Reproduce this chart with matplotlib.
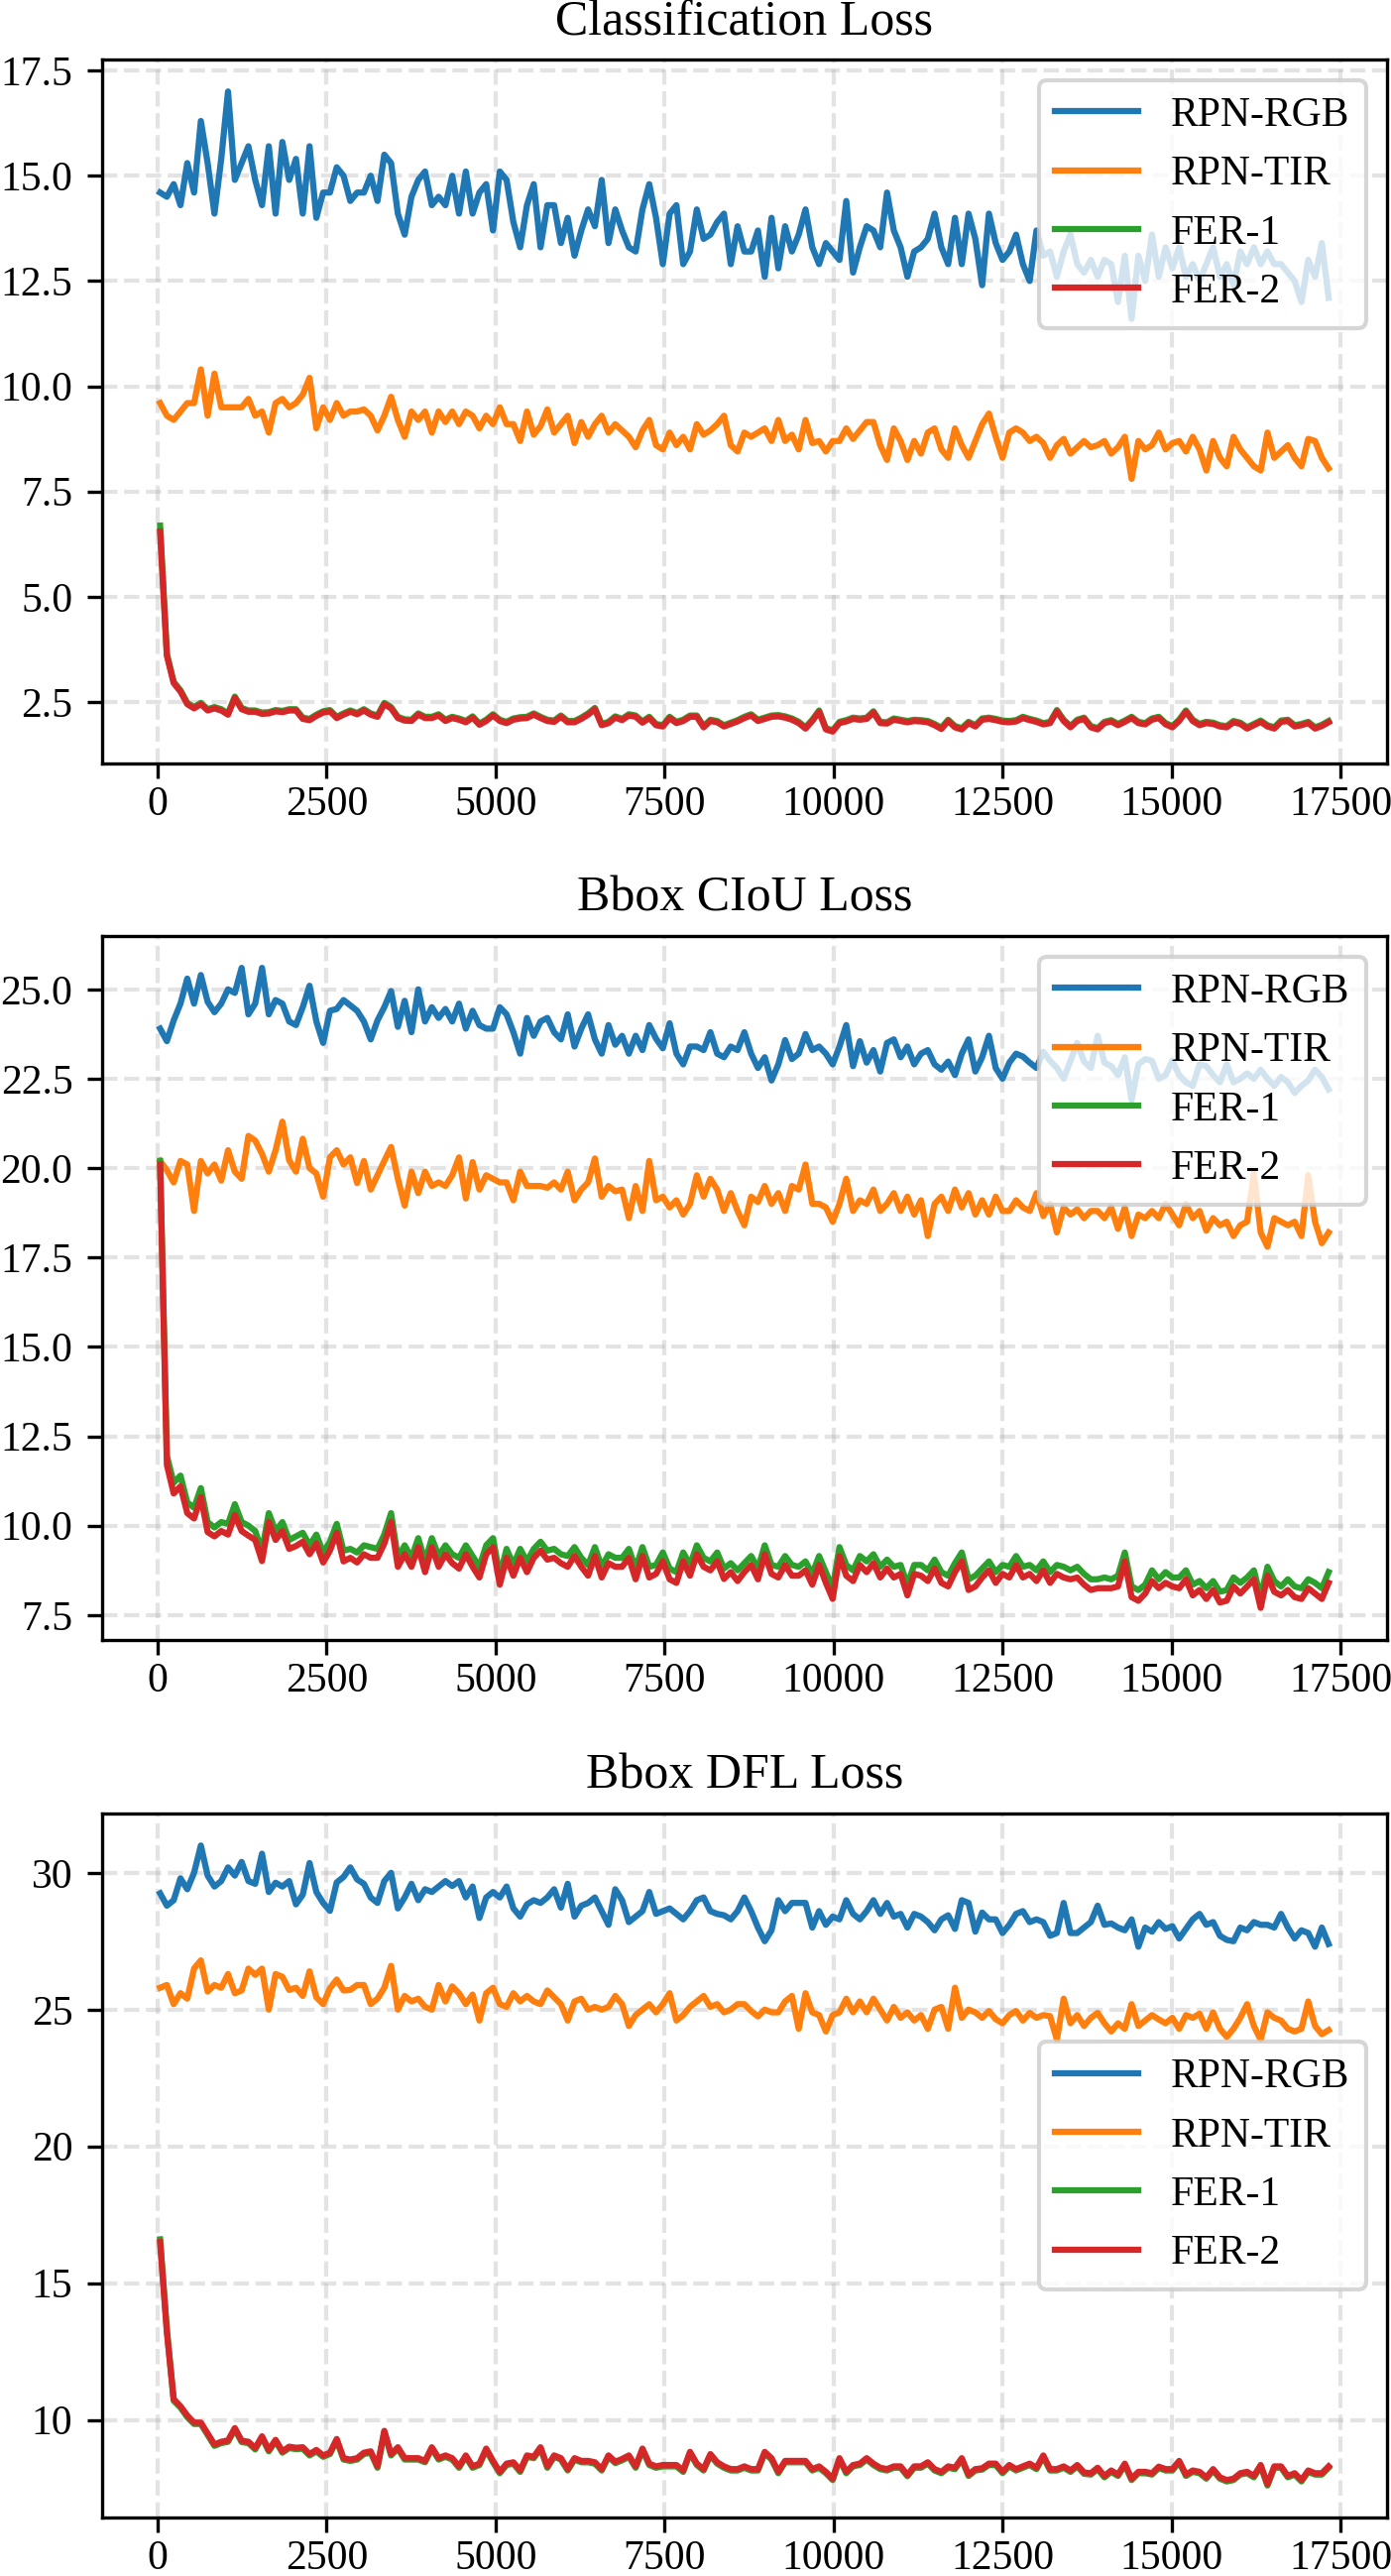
import numpy as np
import matplotlib
matplotlib.use("Agg")
import matplotlib.pyplot as plt

plt.rcParams['font.family'] = ['Liberation Serif', 'DejaVu Serif']

# training iterations (x axis)
steps = np.linspace(36, 17320, 173)

series_labels = ["RPN-RGB", "RPN-TIR", "FER-1", "FER-2"]
series_colors = ["#1f77b4", "#ff7f0e", "#2ca02c", "#d62728"]
titles = ["Classification Loss", "Bbox CIoU Loss", "Bbox DFL Loss"]
xticks = [0, 2500, 5000, 7500, 10000, 12500, 15000, 17500]

# ---------------- Classification loss ----------------
cls_rgb = [
    14.6, 14.5, 14.8, 14.3, 15.3, 14.6, 16.3, 15.3, 14.1, 15.4,
    17.0, 14.9, 15.3, 15.7, 14.9, 14.3, 15.7, 14.1, 15.8, 14.9,
    15.4, 14.1, 15.7, 14.0, 14.6, 14.6, 15.2, 15.0, 14.4, 14.6,
    14.6, 15.0, 14.4, 15.5, 15.3, 14.1, 13.6, 14.5, 14.9, 15.1,
    14.3, 14.5, 14.3, 15.0, 14.1, 15.1, 14.1, 14.6, 14.8, 13.7,
    15.1, 14.9, 13.9, 13.3, 14.3, 14.8, 13.3, 14.3, 14.3, 13.4,
    14.0, 13.1, 13.7, 14.2, 13.8, 14.9, 13.4, 14.2, 13.7, 13.3,
    13.2, 14.2, 14.8, 14.0, 12.9, 14.1, 14.3, 12.9, 13.2, 14.2,
    13.5, 13.6, 13.9, 14.1, 12.9, 13.8, 13.2, 13.2, 13.7, 12.6,
    14.0, 12.8, 13.8, 13.2, 13.6, 14.2, 13.3, 12.9, 13.4, 13.2,
    13.0, 14.4, 12.7, 13.3, 13.8, 13.7, 13.3, 14.6, 13.7, 13.3,
    12.6, 13.2, 13.3, 13.5, 14.1, 13.3, 12.9, 14.0, 12.9, 14.1,
    13.5, 12.4, 14.1, 13.4, 13.0, 13.2, 13.6, 12.9, 12.5, 13.7,
    13.1, 13.2, 12.6, 13.2, 13.6, 12.9, 12.7, 13.0, 12.6, 13.0,
    12.9, 12.0, 13.1, 11.6, 13.1, 12.5, 13.6, 12.6, 13.3, 12.8,
    13.3, 12.6, 12.9, 12.5, 12.9, 13.3, 12.6, 12.9, 12.4, 13.2,
    12.9, 13.3, 12.9, 13.2, 12.9, 12.9, 12.7, 12.5, 12.0, 13.0,
    12.6, 13.4, 12.1]
cls_tir = [
    9.6, 9.3, 9.2, 9.4, 9.6, 9.6, 10.4, 9.3, 10.3, 9.5,
    9.5, 9.5, 9.5, 9.7, 9.3, 9.4, 8.9, 9.6, 9.7, 9.5,
    9.6, 9.8, 10.2, 9.0, 9.5, 9.2, 9.6, 9.3, 9.4, 9.4,
    9.45, 9.3, 8.95, 9.3, 9.75, 9.2, 8.8, 9.4, 9.2, 9.4,
    8.9, 9.4, 9.15, 9.4, 9.1, 9.4, 9.3, 9.0, 9.3, 9.1,
    9.5, 9.1, 9.1, 8.7, 9.4, 8.85, 9.05, 9.45, 8.9, 9.1,
    9.3, 8.65, 9.15, 8.8, 9.1, 9.3, 8.9, 9.1, 8.95, 8.8,
    8.55, 8.95, 9.2, 8.6, 8.5, 8.9, 8.6, 8.8, 8.5, 9.1,
    8.85, 8.95, 9.1, 9.3, 8.6, 8.45, 8.9, 8.8, 8.9, 9.0,
    8.7, 9.2, 8.7, 8.85, 8.5, 9.2, 8.65, 8.7, 8.45, 8.7,
    8.7, 9.0, 8.75, 8.95, 9.15, 9.15, 8.6, 8.25, 9.0, 8.7,
    8.25, 8.7, 8.4, 8.9, 9.0, 8.5, 8.3, 9.0, 8.6, 8.3,
    8.7, 9.1, 9.35, 8.8, 8.3, 8.9, 9.0, 8.9, 8.7, 8.8,
    8.65, 8.3, 8.6, 8.75, 8.4, 8.55, 8.7, 8.55, 8.6, 8.7,
    8.4, 8.55, 8.8, 7.8, 8.7, 8.5, 8.6, 8.9, 8.5, 8.65,
    8.7, 8.45, 8.8, 8.5, 8.0, 8.7, 8.3, 8.1, 8.8, 8.5,
    8.3, 8.1, 8.0, 8.9, 8.3, 8.45, 8.6, 8.3, 8.1, 8.75,
    8.7, 8.3, 8.05]
cls_fer1 = [
    6.69, 3.64, 2.98, 2.78, 2.48, 2.38, 2.48, 2.33, 2.38, 2.33,
    2.23, 2.63, 2.36, 2.3, 2.3, 2.25, 2.26, 2.31, 2.29, 2.33,
    2.33, 2.13, 2.1, 2.2, 2.28, 2.31, 2.15, 2.23, 2.3, 2.24,
    2.33, 2.23, 2.18, 2.48, 2.38, 2.15, 2.09, 2.08, 2.23, 2.15,
    2.15, 2.21, 2.08, 2.15, 2.11, 2.05, 2.16, 1.99, 2.08, 2.21,
    2.08, 2.03, 2.11, 2.14, 2.15, 2.23, 2.15, 2.08, 2.06, 2.18,
    2.05, 2.05, 2.13, 2.23, 2.36, 1.98, 2.03, 2.16, 2.1, 2.21,
    2.18, 2.04, 2.15, 1.98, 1.95, 2.15, 2.03, 2.08, 2.18, 2.18,
    1.93, 2.08, 2.05, 1.95, 2.01, 2.07, 2.15, 2.21, 2.08, 2.13,
    2.18, 2.19, 2.16, 2.11, 2.03, 1.9, 2.08, 2.3, 1.88, 1.83,
    2.03, 2.07, 2.13, 2.11, 2.13, 2.28, 2.03, 2.02, 2.11, 2.08,
    2.05, 2.08, 2.07, 2.05, 1.98, 1.89, 2.08, 1.93, 1.88, 2.03,
    1.95, 2.11, 2.13, 2.1, 2.06, 2.05, 2.07, 2.15, 2.1, 2.06,
    2.0, 2.03, 2.31, 2.08, 1.93, 2.08, 2.13, 1.93, 1.88, 2.03,
    2.07, 1.98, 2.06, 2.15, 2.03, 2.0, 2.11, 2.15, 2.0, 1.93,
    2.08, 2.3, 2.08, 1.98, 2.03, 2.01, 1.95, 1.93, 2.05, 2.01,
    1.9, 1.98, 2.06, 1.95, 1.9, 2.06, 2.08, 1.95, 1.98, 2.03,
    1.9, 1.96, 2.05]
cls_fer2 = [
    6.55, 3.6, 2.95, 2.75, 2.45, 2.35, 2.45, 2.3, 2.35, 2.3,
    2.2, 2.6, 2.33, 2.27, 2.27, 2.22, 2.23, 2.28, 2.26, 2.3,
    2.3, 2.1, 2.07, 2.17, 2.25, 2.28, 2.12, 2.2, 2.27, 2.21,
    2.3, 2.2, 2.15, 2.45, 2.35, 2.12, 2.06, 2.05, 2.2, 2.12,
    2.12, 2.18, 2.05, 2.12, 2.08, 2.02, 2.13, 1.96, 2.05, 2.18,
    2.05, 2.0, 2.08, 2.11, 2.12, 2.2, 2.12, 2.05, 2.03, 2.15,
    2.02, 2.02, 2.1, 2.2, 2.33, 1.95, 2.0, 2.13, 2.07, 2.18,
    2.15, 2.01, 2.12, 1.95, 1.92, 2.12, 2.0, 2.05, 2.15, 2.15,
    1.9, 2.05, 2.02, 1.92, 1.98, 2.04, 2.12, 2.18, 2.05, 2.1,
    2.15, 2.16, 2.13, 2.08, 2.0, 1.87, 2.05, 2.27, 1.85, 1.8,
    2.0, 2.04, 2.1, 2.08, 2.1, 2.25, 2.0, 1.99, 2.08, 2.05,
    2.02, 2.05, 2.04, 2.02, 1.95, 1.86, 2.05, 1.9, 1.85, 2.0,
    1.92, 2.08, 2.1, 2.07, 2.03, 2.02, 2.04, 2.12, 2.07, 2.03,
    1.97, 2.0, 2.28, 2.05, 1.9, 2.05, 2.1, 1.9, 1.85, 2.0,
    2.04, 1.95, 2.03, 2.12, 2.0, 1.97, 2.08, 2.12, 1.97, 1.9,
    2.05, 2.27, 2.05, 1.95, 2.0, 1.98, 1.92, 1.9, 2.02, 1.98,
    1.87, 1.95, 2.03, 1.92, 1.87, 2.03, 2.05, 1.92, 1.95, 2.0,
    1.87, 1.93, 2.02]

# ---------------- Bbox CIoU loss ----------------
ciou_rgb = [
    23.9, 23.55, 24.13, 24.6, 25.3, 24.6, 25.4, 24.65, 24.36, 24.6,
    25.0, 24.9, 25.6, 24.3, 24.6, 25.6, 24.3, 24.7, 24.6, 24.1,
    24.0, 24.5, 25.1, 24.1, 23.5, 24.4, 24.45, 24.7, 24.55, 24.4,
    24.1, 23.6, 24.13, 24.5, 24.95, 23.95, 24.68, 23.8, 25.0, 24.1,
    24.5, 24.2, 24.45, 24.1, 24.6, 23.9, 24.4, 24.0, 23.9, 23.9,
    24.5, 24.3, 23.8, 23.2, 24.2, 23.7, 24.1, 24.2, 23.8, 23.6,
    24.3, 23.4, 23.9, 24.3, 23.6, 23.2, 24.0, 23.45, 23.7, 23.2,
    23.7, 23.3, 24.0, 23.62, 23.35, 24.05, 23.2, 22.9, 23.4, 23.4,
    23.3, 23.8, 23.2, 23.1, 23.4, 23.3, 23.8, 23.2, 22.8, 23.1,
    22.45, 22.9, 23.58, 23.05, 23.2, 23.75, 23.3, 23.4, 23.2, 22.9,
    23.4, 24.0, 22.85, 23.55, 22.95, 23.3, 22.7, 23.5, 23.6, 23.1,
    23.4, 22.9, 23.2, 23.3, 22.9, 22.75, 22.98, 22.6, 23.2, 23.6,
    22.7, 23.1, 23.7, 22.8, 22.5, 22.95, 23.2, 23.12, 22.95, 22.8,
    23.25, 23.0, 22.8, 22.5, 23.0, 23.5, 22.98, 22.8, 23.7, 22.95,
    22.85, 22.6, 23.1, 21.9, 22.9, 23.05, 23.0, 22.5, 22.6, 23.0,
    22.6, 22.4, 22.3, 22.9, 22.85, 22.6, 22.4, 22.9, 22.4, 22.5,
    22.65, 22.5, 22.75, 22.5, 22.3, 22.55, 22.4, 22.1, 22.3, 22.45,
    22.75, 22.55, 22.2]
ciou_tir = [
    20.2, 19.94, 19.6, 20.2, 20.1, 18.8, 20.2, 19.85, 20.1, 19.65,
    20.5, 19.9, 19.7, 20.9, 20.77, 20.4, 19.9, 20.5, 21.3, 20.22,
    19.9, 20.82, 20.0, 19.85, 19.2, 20.3, 20.5, 20.1, 20.3, 19.58,
    20.2, 19.4, 19.8, 20.2, 20.59, 19.7, 18.95, 19.9, 19.3, 19.9,
    19.5, 19.6, 19.5, 19.8, 20.3, 19.15, 20.17, 19.4, 19.8, 19.7,
    19.6, 19.6, 19.1, 19.9, 19.5, 19.5, 19.5, 19.45, 19.6, 19.4,
    19.9, 19.1, 19.4, 19.6, 20.27, 19.2, 19.5, 19.35, 19.4, 18.6,
    19.5, 18.8, 20.2, 19.1, 19.2, 18.9, 19.1, 18.7, 19.0, 19.8,
    19.2, 19.7, 19.4, 18.8, 19.3, 18.8, 18.4, 19.2, 19.05, 19.5,
    19.0, 19.3, 18.8, 19.5, 19.4, 20.1, 19.0, 19.0, 18.9, 18.5,
    19.0, 19.7, 18.8, 19.1, 19.0, 19.4, 18.8, 19.0, 19.3, 18.8,
    19.2, 18.7, 19.1, 18.1, 19.0, 19.2, 18.8, 19.4, 18.9, 19.3,
    18.7, 19.1, 18.7, 19.2, 18.8, 18.8, 19.1, 18.9, 18.8, 19.3,
    18.66, 19.0, 18.2, 18.9, 18.7, 18.85, 18.6, 18.8, 18.8, 18.6,
    18.9, 18.3, 18.9, 18.1, 18.7, 18.6, 18.8, 18.6, 19.0, 18.7,
    18.4, 19.0, 18.6, 18.8, 18.25, 18.6, 18.4, 18.5, 18.1, 18.4,
    18.5, 19.85, 18.2, 17.8, 18.6, 18.5, 18.4, 18.5, 18.1, 19.8,
    18.5, 17.9, 18.2]
ciou_fer1 = [
    20.2, 11.95, 11.2, 11.4, 10.65, 10.5, 11.05, 10.1, 9.95, 10.1,
    10.05, 10.6, 10.1, 10.0, 9.85, 9.3, 10.35, 9.85, 10.1, 9.6,
    9.7, 9.8, 9.45, 9.75, 9.25, 9.55, 10.05, 9.3, 9.35, 9.25,
    9.45, 9.4, 9.35, 9.75, 10.35, 9.1, 9.45, 9.1, 9.65, 9.0,
    9.65, 9.15, 9.45, 9.2, 9.1, 9.45, 9.15, 8.85, 9.45, 9.65,
    8.6, 9.35, 8.9, 9.35, 9.0, 9.35, 9.55, 9.3, 9.35, 9.2,
    9.15, 9.4, 9.1, 8.9, 9.4, 8.85, 9.2, 9.1, 9.1, 9.35,
    8.8, 9.4, 8.85, 8.9, 9.25, 8.8, 8.7, 9.25, 8.9, 9.45,
    9.1, 9.0, 9.25, 8.8, 8.95, 8.75, 8.95, 9.15, 8.8, 9.45,
    8.9, 8.85, 9.15, 8.9, 8.85, 9.0, 8.65, 9.15, 8.7, 8.25,
    9.4, 8.9, 8.75, 9.15, 9.0, 9.2, 8.85, 9.05, 8.85, 8.9,
    8.35, 8.9, 8.9, 8.75, 9.05, 8.7, 8.6, 8.95, 9.25, 8.5,
    8.6, 8.8, 9.0, 8.7, 8.9, 8.85, 9.15, 8.85, 8.9, 8.75,
    9.0, 8.7, 8.9, 8.85, 8.75, 8.85, 8.65, 8.5, 8.5, 8.55,
    8.5, 8.6, 9.25, 8.3, 8.2, 8.35, 8.75, 8.5, 8.7, 8.55,
    8.55, 8.75, 8.35, 8.45, 8.25, 8.45, 8.15, 8.2, 8.55, 8.4,
    8.55, 8.75, 8.0, 8.85, 8.45, 8.3, 8.5, 8.3, 8.25, 8.5,
    8.4, 8.25, 8.7]
ciou_fer2 = [
    20.1, 11.7, 10.9, 11.1, 10.35, 10.2, 10.8, 9.82, 9.7, 9.85,
    9.75, 10.3, 9.85, 9.72, 9.6, 9.01, 10.1, 9.6, 9.85, 9.35,
    9.43, 9.55, 9.2, 9.5, 8.97, 9.3, 9.8, 9.0, 9.1, 8.97,
    9.2, 9.1, 9.1, 9.5, 10.1, 8.85, 9.2, 8.85, 9.4, 8.7,
    9.4, 8.85, 9.2, 8.95, 8.8, 9.2, 8.85, 8.55, 9.2, 9.4,
    8.35, 9.1, 8.6, 9.1, 8.7, 9.1, 9.3, 9.05, 9.1, 8.95,
    8.85, 9.15, 8.85, 8.6, 9.15, 8.55, 8.95, 8.85, 8.85, 9.1,
    8.5, 9.15, 8.55, 8.65, 9.0, 8.5, 8.4, 9.0, 8.6, 9.2,
    8.85, 8.75, 9.0, 8.51, 8.7, 8.45, 8.7, 8.9, 8.5, 9.2,
    8.65, 8.55, 8.9, 8.6, 8.6, 8.75, 8.35, 8.9, 8.4, 7.95,
    9.15, 8.6, 8.45, 8.9, 8.7, 8.95, 8.55, 8.8, 8.55, 8.65,
    8.05, 8.65, 8.6, 8.45, 8.8, 8.4, 8.3, 8.7, 9.0, 8.2,
    8.3, 8.55, 8.75, 8.4, 8.65, 8.55, 8.9, 8.55, 8.65, 8.45,
    8.75, 8.4, 8.65, 8.55, 8.5, 8.55, 8.35, 8.2, 8.25, 8.25,
    8.25, 8.3, 9.0, 8.0, 7.9, 8.1, 8.45, 8.25, 8.4, 8.3,
    8.25, 8.5, 8.05, 8.2, 7.95, 8.2, 7.85, 7.9, 8.3, 8.1,
    8.3, 8.5, 7.7, 8.6, 8.15, 8.05, 8.2, 8.0, 7.95, 8.25,
    8.1, 7.95, 8.4]

# ---------------- Bbox DFL loss ----------------
dfl_rgb = [
    29.25, 28.8, 29.0, 29.8, 29.4, 30.0, 31.0, 29.9, 29.5, 29.7,
    30.2, 29.9, 30.4, 29.7, 29.6, 30.7, 29.3, 29.64, 29.5, 29.7,
    28.85, 29.2, 30.36, 29.3, 28.9, 28.61, 29.65, 29.85, 30.2, 29.76,
    29.6, 29.1, 28.9, 29.7, 30.0, 28.7, 29.1, 29.6, 29.0, 29.4,
    29.3, 29.5, 29.7, 29.52, 29.7, 29.1, 29.5, 28.35, 29.1, 29.3,
    29.1, 29.5, 28.7, 28.4, 28.85, 29.0, 28.9, 29.1, 29.4, 28.73,
    29.6, 28.4, 28.8, 28.9, 29.1, 28.6, 28.1, 29.4, 29.0, 28.2,
    28.4, 28.6, 29.3, 28.5, 28.6, 28.7, 28.5, 28.3, 28.6, 29.0,
    29.1, 28.6, 28.5, 28.45, 28.3, 28.6, 29.1, 28.6, 28.0, 27.5,
    27.9, 29.0, 28.6, 28.9, 28.9, 28.9, 28.0, 28.6, 28.1, 28.4,
    28.3, 29.0, 28.5, 28.3, 28.6, 29.0, 28.5, 28.9, 28.4, 28.5,
    28.0, 28.5, 28.4, 28.2, 27.9, 28.3, 28.45, 27.95, 29.0, 28.9,
    27.85, 28.55, 28.3, 28.3, 27.8, 28.1, 28.5, 28.6, 28.2, 28.3,
    28.2, 27.7, 27.8, 28.9, 27.8, 27.8, 28.0, 28.2, 28.8, 28.1,
    28.15, 28.0, 27.9, 28.3, 27.3, 28.0, 27.85, 28.2, 27.95, 28.05,
    27.6, 27.95, 28.3, 28.5, 28.1, 28.2, 27.7, 27.55, 27.5, 28.0,
    27.9, 28.2, 28.1, 28.1, 28.0, 28.5, 28.0, 27.6, 27.9, 27.8,
    27.3, 28.0, 27.4]
dfl_tir = [
    25.8, 25.9, 25.2, 25.6, 25.4, 26.5, 26.8, 25.66, 25.9, 25.8,
    26.3, 25.6, 25.7, 26.5, 26.27, 26.5, 25.0, 26.3, 26.2, 25.72,
    25.8, 25.5, 26.4, 25.45, 25.2, 25.78, 26.1, 25.7, 25.72, 25.9,
    25.9, 25.2, 25.4, 25.8, 26.6, 25.0, 25.5, 25.3, 25.4, 25.1,
    25.0, 25.9, 25.3, 25.85, 25.6, 25.2, 25.55, 24.6, 25.6, 25.8,
    25.2, 25.1, 25.6, 25.3, 25.5, 25.3, 25.2, 25.7, 25.45, 25.2,
    24.6, 25.3, 25.4, 25.0, 25.1, 25.0, 25.1, 25.5, 25.2, 24.4,
    24.8, 25.0, 25.2, 24.9, 25.2, 25.6, 24.6, 24.8, 25.1, 25.3,
    25.5, 25.1, 25.2, 24.9, 25.0, 25.2, 25.2, 24.95, 24.75, 25.0,
    24.9, 24.9, 25.3, 25.5, 24.3, 25.6, 24.9, 24.8, 24.2, 24.8,
    24.9, 25.4, 24.9, 25.3, 24.9, 25.4, 25.0, 24.6, 25.1, 24.7,
    24.9, 24.6, 24.8, 24.3, 25.0, 25.1, 24.3, 25.8, 24.7, 25.0,
    24.9, 24.7, 24.95, 24.65, 24.5, 24.8, 24.95, 24.6, 24.88, 24.7,
    24.8, 24.76, 23.9, 25.4, 24.5, 24.8, 24.4, 24.7, 24.88, 24.5,
    24.2, 24.5, 24.3, 25.2, 24.4, 24.6, 24.8, 24.64, 24.5, 24.7,
    24.3, 24.8, 24.7, 24.85, 24.3, 24.9, 24.3, 24.0, 24.3, 24.7,
    25.2, 24.4, 23.9, 24.9, 24.7, 24.6, 24.3, 24.2, 24.3, 25.3,
    24.4, 24.1, 24.25]
dfl_fer1 = [
    16.6, 13.3, 10.7, 10.45, 10.1, 9.85, 9.85, 9.45, 9.05, 9.15,
    9.2, 9.65, 9.19, 9.15, 8.92, 9.35, 8.85, 9.22, 8.8, 8.97,
    8.93, 8.95, 8.7, 8.85, 8.65, 8.75, 9.25, 8.55, 8.5, 8.55,
    8.75, 8.8, 8.25, 9.55, 8.7, 8.95, 8.55, 8.55, 8.55, 8.45,
    8.95, 8.55, 8.65, 8.55, 8.25, 8.65, 8.25, 8.35, 8.9, 8.45,
    8.05, 8.35, 8.4, 8.1, 8.65, 8.6, 8.95, 8.25, 8.65, 8.55,
    8.15, 8.55, 8.45, 8.45, 8.4, 8.15, 8.65, 8.42, 8.52, 8.65,
    8.25, 8.9, 8.35, 8.25, 8.3, 8.3, 8.3, 8.1, 8.78, 8.35,
    8.15, 8.7, 8.4, 8.25, 8.15, 8.15, 8.25, 8.15, 8.15, 8.78,
    8.55, 8.05, 8.45, 8.45, 8.45, 8.45, 8.15, 8.25, 8.05, 7.8,
    8.55, 8.05, 8.3, 8.35, 8.55, 8.35, 8.2, 8.15, 8.25, 8.25,
    7.94, 8.25, 8.25, 8.4, 8.15, 8.05, 8.25, 8.2, 8.55, 7.95,
    8.15, 8.18, 8.35, 8.35, 8.05, 8.3, 8.15, 8.25, 8.35, 8.2,
    8.65, 8.15, 8.15, 8.25, 8.1, 8.3, 8.03, 8.0, 8.2, 7.9,
    8.1, 7.95, 8.35, 7.8, 8.05, 8.05, 8.0, 8.24, 8.15, 8.15,
    8.45, 7.95, 8.1, 8.05, 7.85, 8.15, 7.85, 7.75, 7.8, 8.0,
    8.05, 7.9, 8.3, 7.6, 8.25, 8.25, 7.9, 8.0, 7.75, 8.1,
    8.0, 8.0, 8.25]
dfl_fer2 = [
    16.5, 13.2, 10.76, 10.5, 10.16, 9.9, 9.9, 9.5, 9.1, 9.2,
    9.25, 9.7, 9.24, 9.2, 8.97, 9.4, 8.9, 9.27, 8.85, 9.02,
    8.98, 9.0, 8.75, 8.9, 8.7, 8.8, 9.3, 8.6, 8.55, 8.6,
    8.8, 8.85, 8.3, 9.6, 8.75, 9.0, 8.6, 8.6, 8.6, 8.5,
    9.0, 8.6, 8.7, 8.6, 8.3, 8.7, 8.3, 8.4, 8.95, 8.5,
    8.1, 8.4, 8.45, 8.15, 8.7, 8.65, 9.0, 8.3, 8.7, 8.6,
    8.2, 8.6, 8.5, 8.5, 8.45, 8.2, 8.7, 8.47, 8.57, 8.7,
    8.3, 8.95, 8.4, 8.3, 8.35, 8.35, 8.35, 8.15, 8.83, 8.4,
    8.2, 8.75, 8.45, 8.3, 8.2, 8.2, 8.3, 8.2, 8.2, 8.83,
    8.6, 8.1, 8.5, 8.5, 8.5, 8.5, 8.2, 8.3, 8.1, 7.85,
    8.6, 8.1, 8.35, 8.4, 8.6, 8.4, 8.25, 8.2, 8.3, 8.3,
    7.99, 8.3, 8.3, 8.45, 8.2, 8.1, 8.3, 8.25, 8.6, 8.0,
    8.2, 8.23, 8.4, 8.4, 8.1, 8.35, 8.2, 8.3, 8.4, 8.25,
    8.7, 8.2, 8.2, 8.3, 8.15, 8.35, 8.08, 8.05, 8.25, 7.95,
    8.15, 8.0, 8.4, 7.85, 8.1, 8.1, 8.05, 8.29, 8.2, 8.2,
    8.5, 8.0, 8.15, 8.1, 7.9, 8.2, 7.9, 7.8, 7.85, 8.05,
    8.1, 7.95, 8.35, 7.65, 8.3, 8.3, 7.95, 8.05, 7.8, 8.15,
    8.05, 8.05, 8.3]

panels = [
    (titles[0], [cls_rgb, cls_tir, cls_fer1, cls_fer2], "upper right"),
    (titles[1], [ciou_rgb, ciou_tir, ciou_fer1, ciou_fer2], "upper right"),
    (titles[2], [dfl_rgb, dfl_tir, dfl_fer1, dfl_fer2], "center right"),
]

fig = plt.figure(figsize=(1403 / 300, 2598 / 300), dpi=300)
left, width = 0.0731, 0.924
bottoms = [0.7036, 0.3634, 0.0227]
height = 0.2733

for (title, data, loc), b in zip(panels, bottoms):
    ax = fig.add_axes([left, b, width, height])
    for vals, lab, col in zip(data, series_labels, series_colors):
        ax.plot(steps, vals, color=col, lw=1.5, label=lab)
    ax.set_title(title, fontsize=12)
    ax.grid(True, linestyle='--', color='#b0b0b0', alpha=0.35, lw=1.0)
    ax.set_xticks(xticks)
    ax.set_xlim(-828, 18183)
    ax.tick_params(labelsize=10)
    ax.tick_params(axis='x', pad=2.0)
    ax.legend(loc=loc, fontsize=10)

fig.savefig("out.png", dpi=300)
